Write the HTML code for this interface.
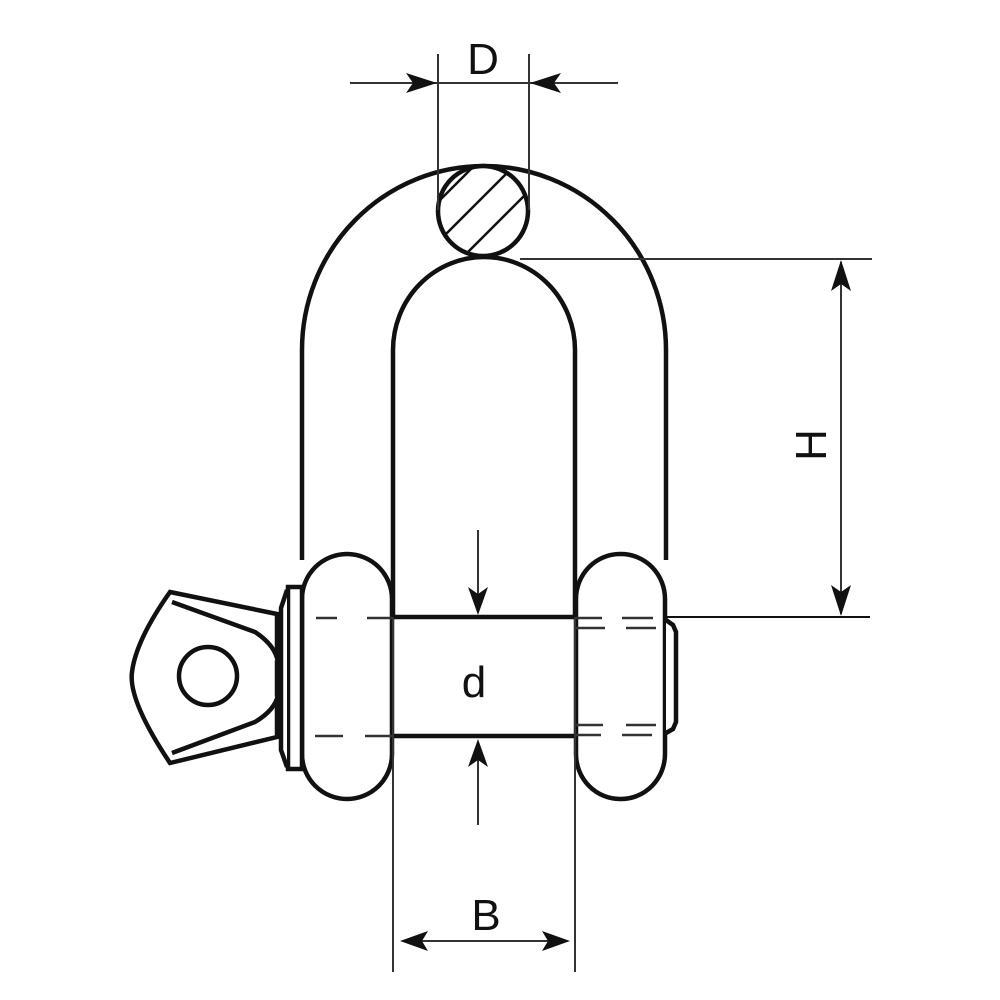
<!DOCTYPE html>
<html><head><meta charset="utf-8"><style>html,body{margin:0;padding:0;background:#fff}svg{display:block}</style></head>
<body>
<svg width="1000" height="1000" viewBox="0 0 1000 1000" xmlns="http://www.w3.org/2000/svg">
<defs>
<clipPath id="cc"><circle cx="483" cy="211" r="44"/></clipPath>
</defs>
<g fill="none" stroke="#111" stroke-width="4.5">
<path d="M302,560 L302,350 A182,184 0 0 1 666,350 L666,560"/>
<path d="M393,617 L393,350 A91,93 0 0 1 575,350 L575,617"/>
<circle cx="483" cy="211" r="45" fill="#fff"/>
</g>
<g clip-path="url(#cc)" stroke="#111" stroke-width="2.5">
<line x1="420" y1="260" x2="520" y2="160"/>
<line x1="440" y1="280" x2="540" y2="180"/>
<line x1="400" y1="240" x2="500" y2="140"/>
</g>
<g stroke="#111" stroke-width="4.5">
<line x1="392" y1="617" x2="575" y2="617"/>
<line x1="392" y1="736" x2="575" y2="736"/>
<line x1="666" y1="617" x2="870" y2="617" stroke-width="2"/>
</g>
<g fill="#fff" stroke="#111" stroke-width="4.5">
<rect x="302" y="554" width="90" height="245" rx="45" ry="45"/>
<rect x="576" y="554" width="89" height="245" rx="44" ry="45"/>
<path d="M666,620 L673,625 L676,632 L676,722 L673,729 L666,733" />
<rect x="288" y="587" width="14" height="182"/>
<path d="M287,590 L281,608 L281,750 L287,767"/>
<path d="M170,592 L277,614 L277,737 L170,763 Q128,700 132,672 Q136,640 170,592 Z"/>
<path d="M172,602 L255,632 Q275,645 278,662" />
<path d="M172,753 L255,722 Q275,710 278,695" />
<circle cx="208" cy="676" r="29"/>
</g>
<g stroke="#333" stroke-width="2.5">
<line x1="316" y1="618" x2="337" y2="618"/><line x1="367" y1="618" x2="392" y2="618"/>
<line x1="315" y1="736" x2="343" y2="736"/><line x1="365" y1="736" x2="392" y2="736"/>
<line x1="576" y1="618" x2="602" y2="618"/><line x1="622" y1="618" x2="653" y2="618"/>
<line x1="576" y1="628" x2="605" y2="628"/><line x1="626" y1="628" x2="656" y2="628"/>
<line x1="576" y1="725" x2="603" y2="725"/><line x1="626" y1="725" x2="656" y2="725"/>
<line x1="576" y1="735" x2="601" y2="735"/><line x1="622" y1="735" x2="652" y2="735"/>
</g>
<g stroke="#333" stroke-width="2">
<line x1="438" y1="54" x2="438" y2="210"/>
<line x1="529" y1="54" x2="529" y2="210"/>
<line x1="350" y1="83" x2="618" y2="83"/>
<line x1="520" y1="259" x2="872" y2="259"/>
<line x1="841" y1="262" x2="841" y2="614"/>
<line x1="478" y1="530" x2="478" y2="612"/>
<line x1="478" y1="742" x2="478" y2="825"/>
<line x1="393" y1="617" x2="393" y2="972"/>
<line x1="575" y1="617" x2="575" y2="972"/>
<line x1="405" y1="941" x2="565" y2="941"/>
</g>
<g fill="#111">
<path d="M437,83 L406,73 L413,83 L406,93 Z"/>
<path d="M530,83 L561,73 L554,83 L561,93 Z"/>
<path d="M841,260 L831,291 L841,284 L851,291 Z"/>
<path d="M841,616 L831,585 L841,592 L851,585 Z"/>
<path d="M478,615 L468,587 L478,594 L488,587 Z"/>
<path d="M478,739 L468,767 L478,760 L488,767 Z"/>
<path d="M400,941 L428,931 L422,941 L428,951 Z"/>
<path d="M570,941 L542,931 L548,941 L542,951 Z"/>
</g>
<g font-family="Liberation Sans, sans-serif" fill="#111" text-anchor="middle" font-size="44">
<text x="483" y="74">D</text>
<text x="486" y="930">B</text>
<text x="474" y="697">d</text>
<text x="0" y="0" transform="translate(826,445) rotate(-90)">H</text>
</g>
</svg>
</body></html>
